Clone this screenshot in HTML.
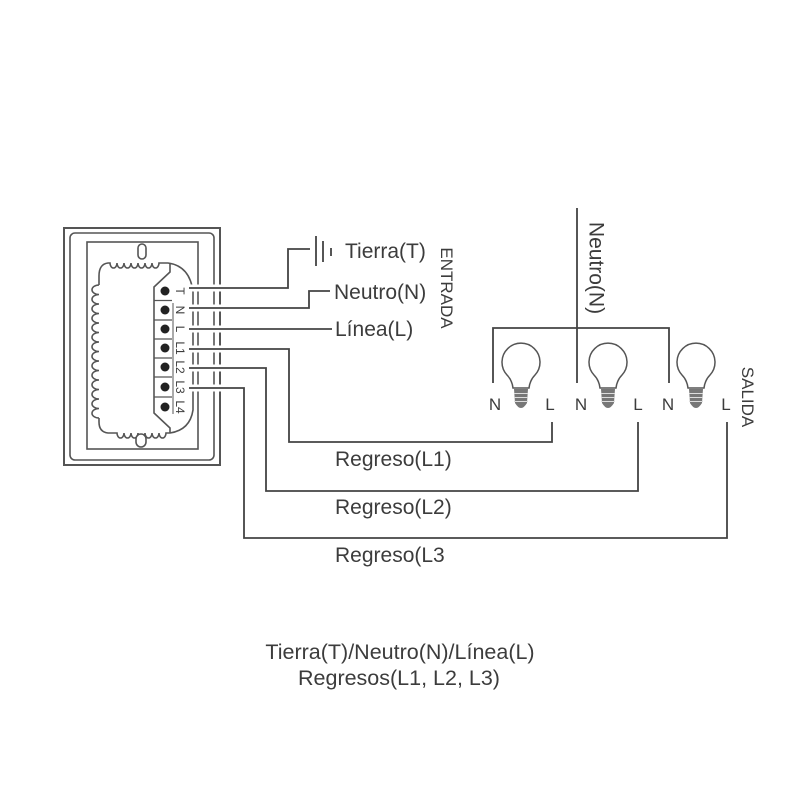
<!DOCTYPE html>
<html><head><meta charset="utf-8"><style>
html,body{margin:0;padding:0;background:#fff;}
svg{display:block;}
text{font-family:"Liberation Sans",Arial,sans-serif;fill:#3c3c3c;}
</style></head><body>
<svg width="800" height="800" viewBox="0 0 800 800" xmlns="http://www.w3.org/2000/svg">
<rect width="800" height="800" fill="#fff"/>
<g fill="none" stroke="#555" stroke-width="1.6">
  <!-- frames -->
  <rect x="64" y="228" width="156" height="237" stroke-width="2"/>
  <rect x="70" y="233" width="144" height="227" rx="5"/>
  <rect x="87" y="242" width="111" height="207"/>
  <!-- module outline -->
  <path d="M99 285 L99 276 Q99 264 108 263 L110 263
    a3.5 5 0 0 0 7 0 a3.5 5 0 0 0 7 0 a3.5 5 0 0 0 7 0 a3.5 5 0 0 0 7 0
    a3.5 5 0 0 0 7 0 a3.5 5 0 0 0 7 0 a3.5 5 0 0 0 7 0 L168 263
    Q190 266 193 292 L193 410 Q190 430 170 433 L166 433
    a3.5 5 0 0 1 -7 0 a3.5 5 0 0 1 -7 0 a3.5 5 0 0 1 -7 0 a3.5 5 0 0 1 -7 0
    a3.5 5 0 0 1 -7 0 a3.5 5 0 0 1 -7 0 a3.5 5 0 0 1 -7 0 L108 433
    Q99 432 99 422 L99 418"/>
  <path d="M99 285 a7 4.75 0 0 0 0 9.5 a7 4.75 0 0 0 0 9.5 a7 4.75 0 0 0 0 9.5 a7 4.75 0 0 0 0 9.5
    a7 4.75 0 0 0 0 9.5 a7 4.75 0 0 0 0 9.5 a7 4.75 0 0 0 0 9.5 a7 4.75 0 0 0 0 9.5
    a7 4.75 0 0 0 0 9.5 a7 4.75 0 0 0 0 9.5 a7 4.75 0 0 0 0 9.5 a7 4.75 0 0 0 0 9.5
    a7 4.75 0 0 0 0 9.5 a7 4.75 0 0 0 0 9.5"/>
  <!-- ovals -->
  <rect x="138" y="244" width="8" height="15" rx="4" fill="#fff"/>
  <rect x="136" y="434" width="10" height="13" rx="5" fill="#fff"/>
  <!-- terminal block -->
  <path d="M170 263 L170 272 L154 287 L154 413 L170 428 L170 433"/>
  <path d="M154 300.5 H172 M154 320 H172 M154 339 H172 M154 358 H172 M154 377 H172 M154 397 H172" stroke-width="1.3"/>
  <path d="M173 303 V414" stroke-width="1"/>
</g>
<g fill="#222">
  <circle cx="165" cy="291" r="4.5"/>
  <circle cx="165" cy="310" r="4.5"/>
  <circle cx="165" cy="329" r="4.5"/>
  <circle cx="165" cy="348" r="4.5"/>
  <circle cx="165" cy="367" r="4.5"/>
  <circle cx="165" cy="387" r="4.5"/>
  <circle cx="165" cy="407" r="4.5"/>
</g>
<g font-size="12">
  <text transform="translate(180,291) rotate(90)" text-anchor="middle" dy="0.35em">T</text>
  <text transform="translate(180,310) rotate(90)" text-anchor="middle" dy="0.35em">N</text>
  <text transform="translate(180,329) rotate(90)" text-anchor="middle" dy="0.35em">L</text>
  <text transform="translate(180,348) rotate(90)" text-anchor="middle" dy="0.35em">L1</text>
  <text transform="translate(180,367) rotate(90)" text-anchor="middle" dy="0.35em">L2</text>
  <text transform="translate(180,387) rotate(90)" text-anchor="middle" dy="0.35em">L3</text>
  <text transform="translate(180,407) rotate(90)" text-anchor="middle" dy="0.35em">L4</text>
</g>
<!-- wire halos -->
<g fill="none" stroke="#fff" stroke-width="7">
  <path d="M189 288 H288 V249 H310"/>
  <path d="M189 308 H309 V291 H330"/>
  <path d="M189 329 H332"/>
  <path d="M189 349 H289 V442 H552 V422"/>
  <path d="M189 368 H266 V491 H638 V422"/>
  <path d="M189 388 H244 V538 H727 V422"/>
</g>
<!-- wires -->
<g fill="none" stroke="#444" stroke-width="1.8">
  <path d="M189 288 H288 V249 H310"/>
  <path d="M189 308 H309 V291 H330"/>
  <path d="M189 329 H332"/>
  <path d="M189 349 H289 V442 H552 V422"/>
  <path d="M189 368 H266 V491 H638 V422"/>
  <path d="M189 388 H244 V538 H727 V422"/>
  <!-- ground -->
  <path d="M316 236 V266 M323 241 V262 M331 248 V256"/>
  <!-- neutral distribution -->
  <path d="M577 208 V383 M493 383 V328 H669 V383"/>
</g>
<!-- bulbs -->
<g fill="none" stroke="#555" stroke-width="1.5">
  <path d="M507 375 A19 19 0 1 1 535 375 Q530 380 529 388 L513 388 Q512 380 507 375 Z"/>
  <path d="M594 375 A19 19 0 1 1 622 375 Q617 380 616 388 L600 388 Q599 380 594 375 Z"/>
  <path d="M682 375 A19 19 0 1 1 710 375 Q705 380 704 388 L688 388 Q687 380 682 375 Z"/>
</g>
<g fill="#777">
  <path d="M514 389 H528 L527 403 Q521 413 515 403 Z"/>
  <path d="M601 389 H615 L614 403 Q608 413 602 403 Z"/>
  <path d="M689 389 H703 L702 403 Q696 413 690 403 Z"/>
</g>
<g stroke="#ddd" stroke-width="1">
  <path d="M514 393.5 H528 M514 397.5 H528 M514 401.5 H528"/>
  <path d="M601 393.5 H615 M601 397.5 H615 M601 401.5 H615"/>
  <path d="M689 393.5 H703 M689 397.5 H703 M689 401.5 H703"/>
</g>
<!-- labels -->
<g font-size="21">
  <text x="345" y="258">Tierra(T)</text>
  <text x="334" y="299">Neutro(N)</text>
  <text x="335" y="336">Línea(L)</text>
  <text x="335" y="466">Regreso(L1)</text>
  <text x="335" y="514">Regreso(L2)</text>
  <text x="335" y="562">Regreso(L3</text>
  <text x="400" y="659" text-anchor="middle" font-size="21.5">Tierra(T)/Neutro(N)/Línea(L)</text>
  <text x="399" y="685" text-anchor="middle" font-size="21.5">Regresos(L1, L2, L3)</text>
  <text transform="translate(597,268) rotate(90)" text-anchor="middle" dy="0.35em">Neutro(N)</text>
</g>
<g font-size="17">
  <text transform="translate(447,288) rotate(90)" text-anchor="middle" dy="0.35em">ENTRADA</text>
  <text transform="translate(748,397) rotate(90)" text-anchor="middle" dy="0.35em">SALIDA</text>
  <text x="495" y="410" text-anchor="middle">N</text>
  <text x="550" y="410" text-anchor="middle">L</text>
  <text x="581" y="410" text-anchor="middle">N</text>
  <text x="638" y="410" text-anchor="middle">L</text>
  <text x="668" y="410" text-anchor="middle">N</text>
  <text x="726" y="410" text-anchor="middle">L</text>
</g>
</svg>
</body></html>
